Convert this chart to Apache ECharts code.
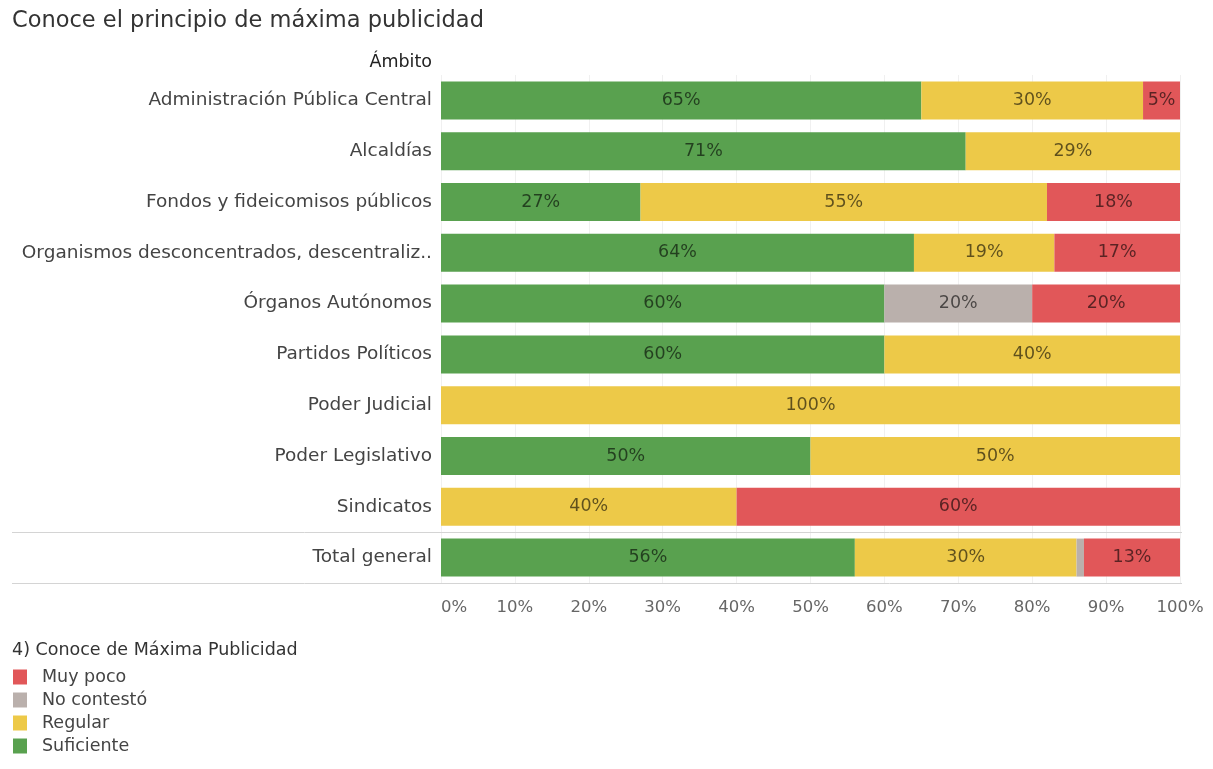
<!DOCTYPE html>
<html>
<head>
<meta charset="utf-8">
<script src="https://cdn.jsdelivr.net/npm/echarts@6/dist/echarts.min.js"></script>
<style>
html,body{margin:0;padding:0;background:#fff;}
#main{width:1213px;height:769px;}
</style>
</head>
<body>
<div id="main"></div>
<script>
const categories = [
  'Administración Pública Central',
  'Alcaldías',
  'Fondos y fideicomisos públicos',
  'Organismos desconcentrados, descentraliz..',
  'Órganos Autónomos',
  'Partidos Políticos',
  'Poder Judicial',
  'Poder Legislativo',
  'Sindicatos',
  'Total general'
];
const suficiente = [65, 71, 27, 64, 60, 60, 0, 50, 0, 56];
const regular    = [30, 29, 55, 19, 0, 40, 100, 50, 40, 30];
const noContesto = [0, 0, 0, 0, 20, 0, 0, 0, 0, 1];
const muyPoco    = [5, 0, 18, 17, 20, 0, 0, 0, 60, 13];
const xTicks = [0, 10, 20, 30, 40, 50, 60, 70, 80, 90, 100];

const FONT = 'DejaVu Sans';
const colors = {
  'Suficiente': '#59a14f',
  'Regular': '#edc948',
  'No contestó': '#bab0ac',
  'Muy poco': '#e15759'
};

const chart = echarts.init(document.getElementById('main'));

function mk(name, data) {
  return {
    name: name,
    type: 'bar',
    stack: 'total',
    barWidth: 38,
    data: data,
    itemStyle: { color: colors[name] },
    label: {
      show: true,
      position: 'inside',
      fontFamily: FONT,
      fontSize: 17.5,
      color: 'rgba(0,0,0,0.6)',
      formatter: p => (p.value >= 3 ? p.value + '%' : '')
    },
    emphasis: { disabled: true }
  };
}

const option = {
  animation: false,
  backgroundColor: '#fff',
  textStyle: { fontFamily: FONT },
  title: [
    { text: 'Conoce el principio de máxima publicidad', left: 7, top: 5,
      textStyle: { fontFamily: FONT, fontSize: 22.5, fontWeight: 'normal', color: '#333' } },
    { text: 'Ámbito', right: 776, top: 48,
      textStyle: { fontFamily: FONT, fontSize: 17.5, fontWeight: 'normal', color: '#222' } },
    { text: '4) Conoce de Máxima Publicidad', left: 7, top: 636,
      textStyle: { fontFamily: FONT, fontSize: 17.5, fontWeight: 'normal', color: '#333' } }
  ],
  legend: {
    orient: 'vertical',
    left: 13,
    top: 668,
    height: 100,
    itemWidth: 14,
    itemHeight: 15,
    itemGap: 5,
    padding: 0,
    icon: 'rect',
    data: ['Muy poco', 'No contestó', 'Regular', 'Suficiente'],
    textStyle: { fontFamily: FONT, fontSize: 17.5, color: '#444', padding: [0, 0, 0, 10] },
    selectedMode: false
  },
  grid: { left: 441, right: 33, top: 75, bottom: 186, containLabel: false },
  xAxis: {
    type: 'value',
    min: 0,
    max: 100,
    interval: 10,
    axisLine: { show: false },
    axisTick: { show: false },
    splitLine: { show: true, lineStyle: { color: '#f0f0f0', width: 1 } },
    axisLabel: {
      margin: 16,
      fontFamily: FONT,
      fontSize: 16.5,
      color: '#666',
      alignMinLabel: 'left',
      formatter: v => (xTicks.indexOf(v) >= 0 ? v + '%' : '')
    }
  },
  yAxis: {
    type: 'category',
    inverse: true,
    data: categories,
    axisLine: { show: false },
    axisTick: { show: false },
    splitLine: { show: false },
    axisLabel: {
      margin: 9,
      fontFamily: FONT,
      fontSize: 18.5,
      color: '#444'
    }
  },
  series: [
    mk('Suficiente', suficiente),
    mk('Regular', regular),
    mk('No contestó', noContesto),
    mk('Muy poco', muyPoco)
  ]
};

chart.setOption(option);

// separator lines before and after the "Total general" row
const n = categories.length;
const yTotal = chart.convertToPixel({ yAxisIndex: 0 }, categories[n - 1]);
const yPrev = chart.convertToPixel({ yAxisIndex: 0 }, categories[n - 2]);
const band = yTotal - yPrev;
const xRight = chart.convertToPixel({ xAxisIndex: 0 }, 100) + 2;
const yA = Math.round(yTotal - band / 2) + 0.5;
const yB = Math.round(yTotal + band / 2) + 0.5;
chart.setOption({
  graphic: [
    { type: 'line', shape: { x1: 12, y1: yA, x2: xRight, y2: yA }, style: { stroke: '#d4d4d4', lineWidth: 1 }, silent: true },
    { type: 'line', shape: { x1: 12, y1: yB, x2: xRight, y2: yB }, style: { stroke: '#d4d4d4', lineWidth: 1 }, silent: true }
  ]
});
</script>
</body>
</html>
